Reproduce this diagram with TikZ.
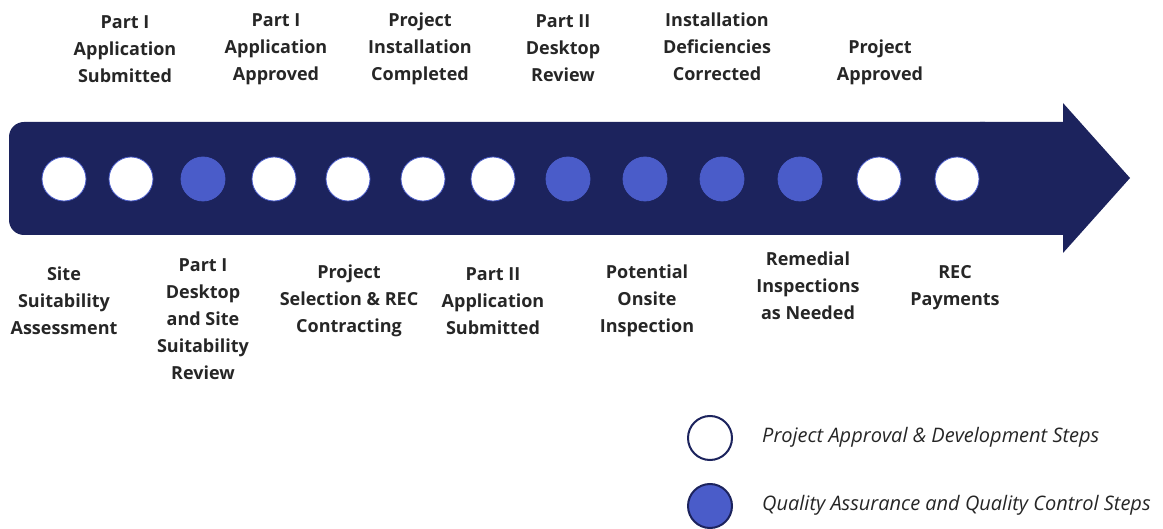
\documentclass[tikz,border=0pt]{standalone}
\usepackage{fontspec}
\setmainfont{Open Sans}
\definecolor{navy}{HTML}{1C235D}
\definecolor{qa}{HTML}{4A5CC9}
\definecolor{txt}{HTML}{262626}

\begin{document}
\begin{tikzpicture}[x=1pt,y=-1pt,
    dot/.style={circle,minimum size=44pt,inner sep=0pt},
    lbl/.style={align=center,inner sep=0pt,text=txt,font=\bfseries\fontsize{18}{27}\selectfont},
    leg/.style={anchor=west,inner sep=0pt,text=txt,font=\itshape\fontsize{20}{24}\selectfont}]
    \useasboundingbox (0,0) rectangle (1163,529);
    % timeline arrow
    \fill[navy,rounded corners=15pt] (9,122) rectangle (1000,235);
    \fill[navy] (980,122)--(1063,122)--(1063,103)--(1130,178)--(1063,253)--(1063,235)--(980,235)--cycle;
    \foreach \x/\mau [count=\i] in{64/white,131/white,203/qa,274/white,348/white,423/white,
            493/white,568/qa,645/qa,722/qa,800/qa,879/white,957/white}{
            \node[dot,fill=\mau,draw=qa,line width=0.8pt] (c\i) at (\x,179) {};
        }
    % milestones above
    \foreach \x/\y/\t [count=\i] in{125/49/{Part I\\Application\\Submitted},
            276/49/{Part I\\Application\\Approved},
            420/49/{Project\\Installation\\Completed},
            563/48/{Part II\\Desktop\\Review},
            717/47/{Installation\\Deficiencies\\Corrected},
            880/62/{Project\\Approved}}{
            \node[lbl] (t\i) at (\x,\y) {\t};
        }
    % steps below
    \foreach \x/\y/\t [count=\i] in{64/301/{Site\\Suitability\\Assessment},
            203/319/{Part I\\Desktop\\and Site\\Suitability\\Review},
            349/301/{Project\\Selection \& REC\\Contracting},
            493/301/{Part II\\Application\\Submitted},
            647/301/{Potential\\Onsite\\Inspection},
            808/286/{Remedial\\Inspections\\as Needed},
            955/288/{REC\\Payments}}{
            \node[lbl] (b\i) at (\x,\y) {\t};
        }
    % legend
    \node[dot,fill=white,draw=navy,line width=2pt] (k1) at (710,438) {};
    \node[dot,fill=qa,draw=navy,line width=2pt] (k2) at (710,506) {};
    \node[leg] (l1) at (762,437) {Project Approval \& Development Steps};
    \node[leg] (l2) at (762,505) {Quality Assurance and Quality Control Steps};
\end{tikzpicture}
\end{document}
